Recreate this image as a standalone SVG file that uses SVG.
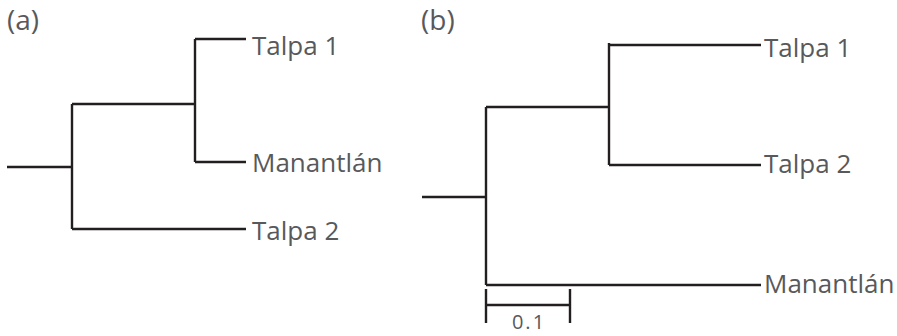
<svg xmlns="http://www.w3.org/2000/svg" width="897" height="336" viewBox="0 0 897 336">
<style>
.e{stroke:#231f20;stroke-width:2.4;fill:none;stroke-linecap:butt}
.t{font-family:"Open Sans","Liberation Sans",sans-serif;font-size:26px;fill:#58595b}
.p{font-family:"Open Sans","Liberation Sans",sans-serif;font-size:28px;fill:#58595b}
.s{font-family:"Open Sans","Liberation Sans",sans-serif;font-size:20px;letter-spacing:2px;fill:#58595b}
</style>
<rect width="897" height="336" fill="#fff"/>
<text class="p" x="7" y="30">(a)</text>
<text class="p" x="421" y="30">(b)</text>
<g id="connectors">
<path class="e" d="M7 167H72M72 104V229M72 104H195M195 39V162M195 39H246M195 162H246M72 229H246"/>
<path class="e" d="M422 197H486M486 107V285M486 107H609M609 43V165M609 45H761M609 165H761M486 285H761"/>
<path class="e" d="M486 289V323M570 289V323M486 305H570"/>
</g>
<g id="a-talpa1"><text class="t" x="252" y="55">Talpa 1</text></g>
<g id="a-manantlan"><text class="t" x="252" y="172">Manantlán</text></g>
<g id="a-talpa2"><text class="t" x="252" y="240">Talpa 2</text></g>
<g id="b-talpa1"><text class="t" x="764" y="57">Talpa 1</text></g>
<g id="b-talpa2"><text class="t" x="764" y="173">Talpa 2</text></g>
<g id="b-manantlan"><text class="t" x="764" y="293">Manantlán</text></g>
<g id="scale"><text class="s" x="529" y="329" text-anchor="middle">0.1</text></g>
</svg>
